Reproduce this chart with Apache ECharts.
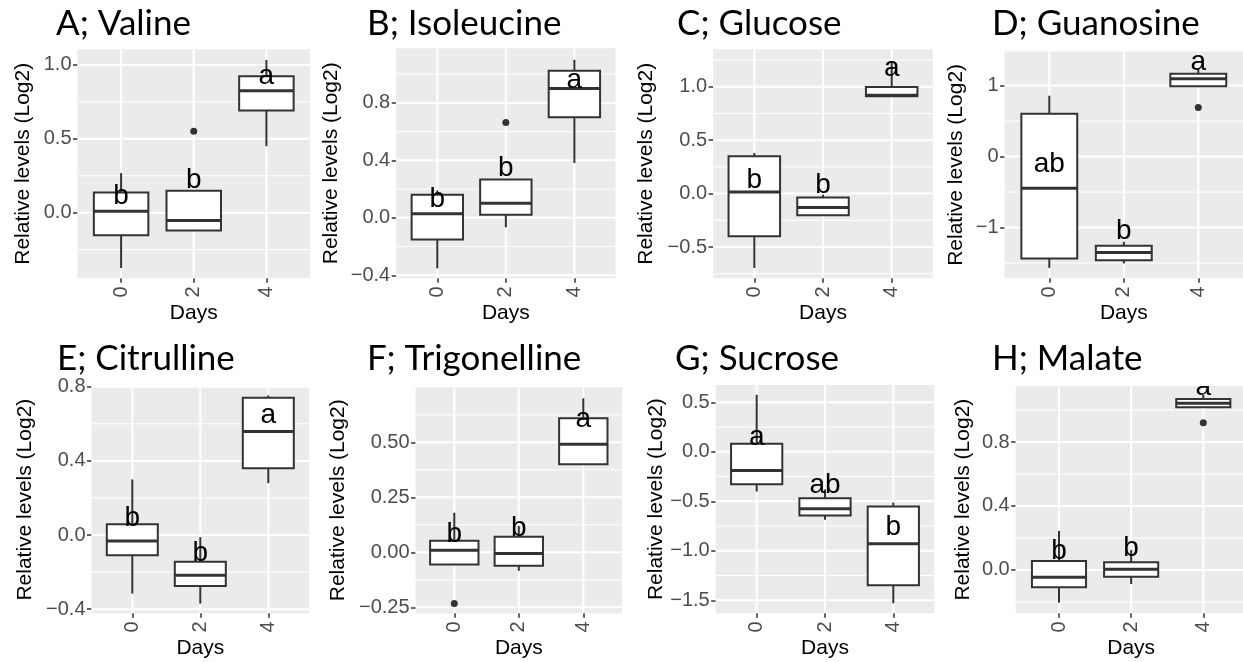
<!DOCTYPE html>
<html>
<head>
<meta charset="utf-8">
<script src="https://cdn.jsdelivr.net/npm/echarts@6/dist/echarts.min.js"></script>
<style>
  html, body { margin: 0; padding: 0; background: #fff; }
  #main { width: 1243px; height: 662px; }
</style>
</head>
<body>
<div id="main"></div>
<script>
const days = [0, 2, 4];

// box stats per day: [lower whisker, Q1, median, Q3, upper whisker]
const valineBox = [[-0.374, -0.153, 0.009, 0.137, 0.268], [-0.12, -0.12, -0.052, 0.149, 0.149], [0.45, 0.691, 0.826, 0.923, 1.034]];
const valineOut = [[2, 0.551]];
const valineLetters = ['b', 'b', 'a'];
const valineLetterY = [0.108, 0.221, 0.921];
const valineTicks = [0, 0.5, 1.0];

const isoleucineBox = [[-0.352, -0.151, 0.028, 0.16, 0.19], [-0.066, 0.021, 0.102, 0.267, 0.267], [0.381, 0.70, 0.90, 1.023, 1.10]];
const isoleucineOut = [[2, 0.663]];
const isoleucineLetters = ['b', 'b', 'a'];
const isoleucineLetterY = [0.126, 0.342, 0.958];
const isoleucineTicks = [-0.4, 0, 0.4, 0.8];

const glucoseBox = [[-0.697, -0.4, 0.015, 0.349, 0.38], [-0.203, -0.203, -0.131, -0.037, -0.01], [0.911, 0.911, 0.92, 0.998, 1.24]];
const glucoseOut = [];
const glucoseLetters = ['b', 'b', 'a'];
const glucoseLetterY = [0.125, 0.078, 1.17];
const glucoseTicks = [-0.5, 0, 0.5, 1.0];

const guanosineBox = [[-1.568, -1.435, -0.447, 0.603, 0.857], [-1.506, -1.459, -1.35, -1.257, -1.2], [0.989, 0.989, 1.097, 1.168, 1.239]];
const guanosineOut = [[4, 0.692]];
const guanosineLetters = ['ab', 'b', 'a'];
const guanosineLetterY = [-0.103, -1.056, 1.33];
const guanosineTicks = [-1, 0, 1];

const citrullineBox = [[-0.316, -0.109, -0.032, 0.058, 0.30], [-0.37, -0.275, -0.217, -0.144, -0.011], [0.28, 0.361, 0.559, 0.741, 0.753]];
const citrullineOut = [];
const citrullineLetters = ['b', 'b', 'a'];
const citrullineLetterY = [0.088, -0.097, 0.645];
const citrullineTicks = [-0.4, 0, 0.4, 0.8];

const trigonellineBox = [[-0.055, -0.055, 0.01, 0.053, 0.18], [-0.084, -0.061, -0.005, 0.071, 0.12], [0.40, 0.40, 0.491, 0.609, 0.70]];
const trigonellineOut = [[0, -0.232]];
const trigonellineLetters = ['b', 'b', 'a'];
const trigonellineLetterY = [0.083, 0.109, 0.605];
const trigonellineTicks = [-0.25, 0, 0.25, 0.5];

const sucroseBox = [[-0.401, -0.327, -0.189, 0.081, 0.576], [-0.687, -0.643, -0.576, -0.468, -0.38], [-1.53, -1.347, -0.929, -0.552, -0.512]];
const sucroseOut = [];
const sucroseLetters = ['a', 'ab', 'b'];
const sucroseLetterY = [0.145, -0.333, -0.765];
const sucroseTicks = [-1.5, -1.0, -0.5, 0, 0.5];

const malateBox = [[-0.204, -0.108, -0.046, 0.056, 0.244], [-0.088, -0.042, 0.004, 0.048, 0.125], [1.017, 1.017, 1.042, 1.069, 1.094]];
const malateOut = [[4, 0.921]];
const malateLetters = ['b', 'b', 'a'];
const malateLetterY = [0.114, 0.135, 1.145];
const malateTicks = [0, 0.4, 0.8];

const titles = ['A; Valine', 'B; Isoleucine', 'C; Glucose', 'D; Guanosine',
  'E; Citrulline', 'F; Trigonelline', 'G; Sucrose', 'H; Malate'];

const panels = [
  { box: valineBox, out: valineOut, letters: valineLetters, letterY: valineLetterY, ticks: valineTicks },
  { box: isoleucineBox, out: isoleucineOut, letters: isoleucineLetters, letterY: isoleucineLetterY, ticks: isoleucineTicks },
  { box: glucoseBox, out: glucoseOut, letters: glucoseLetters, letterY: glucoseLetterY, ticks: glucoseTicks },
  { box: guanosineBox, out: guanosineOut, letters: guanosineLetters, letterY: guanosineLetterY, ticks: guanosineTicks },
  { box: citrullineBox, out: citrullineOut, letters: citrullineLetters, letterY: citrullineLetterY, ticks: citrullineTicks },
  { box: trigonellineBox, out: trigonellineOut, letters: trigonellineLetters, letterY: trigonellineLetterY, ticks: trigonellineTicks },
  { box: sucroseBox, out: sucroseOut, letters: sucroseLetters, letterY: sucroseLetterY, ticks: sucroseTicks },
  { box: malateBox, out: malateOut, letters: malateLetters, letterY: malateLetterY, ticks: malateTicks },
];

// layout: plot rect [left, top, right, bottom], y range, decimals, name gap, title pos
const rects = [
  [77.5, 49.3, 310, 278.3], [396.2, 48.3, 615.5, 278.3], [713.1, 49.3, 932.9, 278.3], [1004.6, 51.5, 1243, 278.3],
  [91.5, 386, 309.1, 613.3], [415.6, 387.3, 622, 613.3], [715.7, 385, 934.3, 613.3], [1015.7, 386, 1246.6, 613.3],
];
const yRanges = [[-0.444, 1.106], [-0.421, 1.18], [-0.793, 1.35], [-1.715, 1.48],
  [-0.422, 0.804], [-0.277, 0.75], [-1.631, 0.675], [-0.271, 1.15]];
const decimals = [1, 1, 1, 0, 1, 2, 1, 1];
const yNameGaps = [44, 54, 56, 38, 56, 67, 49, 42];
const titleLeft = [56, 367, 677, 992, 57, 367, 675, 992];
const titleTop = [6, 6, 6, 6, 341, 341, 341, 341];

const BOX_W = 1.5; // in days (0.75 of the 2-day spacing)
const INK = '#333333';
const FONT = 'Liberation Sans';

function fmt(dec) {
  return function (v) {
    const s = Math.abs(v).toFixed(dec);
    return (v < -1e-9 ? '\u2212' : '') + s;
  };
}

function minorOf(ticks, range) {
  const step = ticks.length > 1 ? ticks[1] - ticks[0] : 1;
  const out = [];
  for (let v = ticks[0] - step / 2; v <= range[1]; v += step) {
    if (v >= range[0]) out.push(+v.toFixed(4));
  }
  return out;
}

// white ggplot-style grid: kind 0 = major y, 1 = minor y, 2 = major x
function renderGridLine(params, api) {
  const cs = params.coordSys;
  const v = api.value(0);
  const kind = api.value(1);
  if (kind === 2) {
    const x = api.coord([v, 0])[0];
    return { type: 'line', shape: { x1: x, y1: cs.y, x2: x, y2: cs.y + cs.height },
      style: { stroke: '#ffffff', lineWidth: 2 } };
  }
  const y = api.coord([0, v])[1];
  return { type: 'line', shape: { x1: cs.x, y1: y, x2: cs.x + cs.width, y2: y },
    style: { stroke: '#ffffff', lineWidth: kind === 0 ? 2 : 1 } };
}

function renderBox(params, api) {
  const x = api.value(0);
  const lo = api.coord([x, api.value(1)]);
  const q1 = api.coord([x, api.value(2)]);
  const md = api.coord([x, api.value(3)]);
  const q3 = api.coord([x, api.value(4)]);
  const hi = api.coord([x, api.value(5)]);
  const half = api.size([BOX_W, 0])[0] / 2;
  const ln = { stroke: INK, lineWidth: 2 };
  return {
    type: 'group',
    children: [
      { type: 'line', shape: { x1: lo[0], y1: lo[1], x2: q1[0], y2: q1[1] }, style: ln },
      { type: 'line', shape: { x1: q3[0], y1: q3[1], x2: hi[0], y2: hi[1] }, style: ln },
      { type: 'rect', shape: { x: md[0] - half, y: q3[1], width: half * 2, height: q1[1] - q3[1] },
        style: { fill: '#ffffff', stroke: INK, lineWidth: 2 } },
      { type: 'line', shape: { x1: md[0] - half, y1: md[1], x2: md[0] + half, y2: md[1] },
        style: { stroke: INK, lineWidth: 3 } },
    ],
  };
}

const option = {
  animation: false,
  textStyle: { fontFamily: FONT },
  title: [],
  grid: [],
  xAxis: [],
  yAxis: [],
  series: [],
};

panels.forEach(function (p, k) {
  const r = rects[k];
  const yr = yRanges[k];
  option.title.push({
    text: titles[k], left: titleLeft[k], top: titleTop[k], padding: 0,
    textStyle: { fontFamily: 'Lato', fontSize: 35, fontWeight: 'normal', color: '#000' },
  });
  option.grid.push({
    left: r[0], top: r[1], width: r[2] - r[0], height: r[3] - r[1],
    show: true, backgroundColor: '#EBEBEB', borderWidth: 0, containLabel: false, outerBoundsMode: 'none',
  });
  option.xAxis.push({
    type: 'value', gridIndex: k, min: -1.2, max: 5.2,
    name: 'Days', nameLocation: 'middle', nameGap: 24,
    nameTextStyle: { fontSize: 21, color: '#000', fontFamily: FONT },
    axisLine: { show: false, onZero: false },
    axisTick: { show: true, length: 4.5, lineStyle: { color: INK, width: 1.5 }, customValues: days },
    axisLabel: { customValues: days, rotate: 90, margin: 8, fontSize: 20, color: '#4D4D4D', fontFamily: FONT },
    splitLine: { show: false },
  });
  option.yAxis.push({
    type: 'value', gridIndex: k, min: yr[0], max: yr[1], position: 'left',
    name: 'Relative levels (Log2)', nameLocation: 'middle', nameGap: yNameGaps[k],
    nameTextStyle: { fontSize: 21, color: '#000', fontFamily: FONT },
    axisLine: { show: false, onZero: false },
    axisTick: { show: true, length: 4.5, lineStyle: { color: INK, width: 1.5 }, customValues: p.ticks },
    axisLabel: { customValues: p.ticks, margin: 6, fontSize: 20, color: '#4D4D4D', fontFamily: FONT, formatter: fmt(decimals[k]) },
    splitLine: { show: false },
  });

  const gridLines = minorOf(p.ticks, yr).map(function (v) { return [v, 1]; })
    .concat(p.ticks.map(function (v) { return [v, 0]; }))
    .concat(days.map(function (d) { return [d, 2]; }));
  option.series.push({
    type: 'custom', xAxisIndex: k, yAxisIndex: k, silent: true, clip: true,
    renderItem: renderGridLine,
    encode: { x: -1, y: -1 },
    data: gridLines,
    z: 1,
  });
  option.series.push({
    type: 'custom', xAxisIndex: k, yAxisIndex: k,
    renderItem: renderBox,
    encode: { x: 0, y: [1, 2, 3, 4, 5] },
    data: days.map(function (d, i) { return [d].concat(p.box[i]); }),
    z: 3,
  });
  if (p.out.length) {
    option.series.push({
      type: 'scatter', xAxisIndex: k, yAxisIndex: k,
      symbolSize: 7, itemStyle: { color: INK, opacity: 1 },
      data: p.out, z: 4,
    });
  }
  option.series.push({
    type: 'custom', xAxisIndex: k, yAxisIndex: k, clip: true,
    renderItem: function (params, api) {
      const pt = api.coord([api.value(0), api.value(1)]);
      return {
        type: 'text', x: pt[0], y: pt[1],
        style: {
          text: p.letters[params.dataIndex], fill: '#000',
          font: '28px "Liberation Sans"',
          align: 'center', verticalAlign: 'middle',
          textAlign: 'center', textVerticalAlign: 'middle',
        },
      };
    },
    data: days.map(function (d, i) { return [d, p.letterY[i]]; }),
    z: 5,
  });
});

const myChart = echarts.init(document.getElementById('main'));
myChart.setOption(option);
window.onresize = () => {
  myChart.resize();
};
</script>
</body>
</html>
